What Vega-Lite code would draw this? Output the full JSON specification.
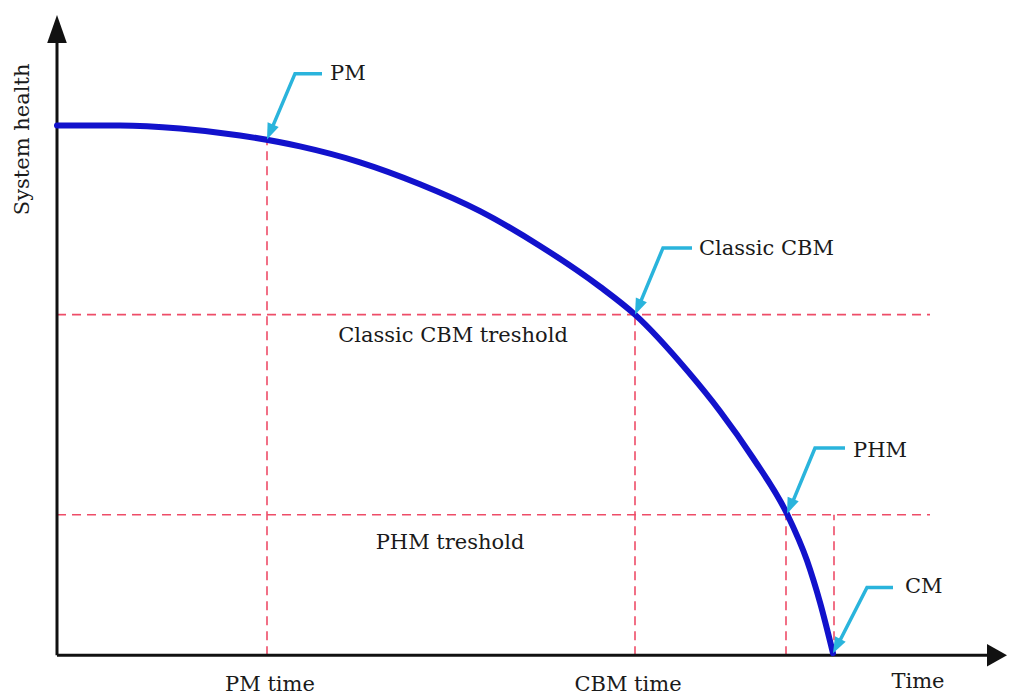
{
  "$schema": "https://vega.github.io/schema/vega-lite/v6.json",
  "width": 1009,
  "height": 695,
  "padding": 0,
  "autosize": {"type": "fit", "contains": "padding"},
  "background": "white",
  "config": {"view": {"stroke": null}, "axis": {"disable": true}},
  "datasets": {
    "curve": [
      {"t": 0, "h": 53.2}, {"t": 6.3, "h": 53.2}, {"t": 12.3, "h": 52.9}, {"t": 18.3, "h": 52.2},
      {"t": 24.3, "h": 51.1}, {"t": 30.3, "h": 49.5}, {"t": 36.3, "h": 47.3}, {"t": 42.3, "h": 44.6},
      {"t": 48.3, "h": 41.1}, {"t": 54.3, "h": 37.0}, {"t": 57.8, "h": 34.2},
      {"t": 63.0, "h": 28.6}, {"t": 66.3, "h": 24.5}, {"t": 69.6, "h": 19.8}, {"t": 73.0, "h": 14.2},
      {"t": 75.0, "h": 9.5}, {"t": 76.3, "h": 5.3}, {"t": 77.6, "h": 0.2}
    ],
    "guides": [
      {"t": 0, "h": 34.2, "t2": 87.3, "h2": 34.2},
      {"t": 0, "h": 14.1, "t2": 87.3, "h2": 14.1},
      {"t": 21.0, "h": 0, "t2": 21.0, "h2": 51.8},
      {"t": 57.8, "h": 0, "t2": 57.8, "h2": 34.2},
      {"t": 72.9, "h": 0, "t2": 72.9, "h2": 14.1},
      {"t": 77.7, "h": 0, "t2": 77.7, "h2": 14.1}
    ],
    "callouts": [
      {"c": "PM", "s": 1, "t": 26.5, "h": 58.4}, {"c": "PM", "s": 2, "t": 23.8, "h": 58.4}, {"c": "PM", "s": 3, "t": 21.4, "h": 52.7},
      {"c": "CBM", "s": 1, "t": 63.5, "h": 40.9}, {"c": "CBM", "s": 2, "t": 60.6, "h": 40.9}, {"c": "CBM", "s": 3, "t": 58.2, "h": 35.1},
      {"c": "PHM", "s": 1, "t": 78.8, "h": 20.8}, {"c": "PHM", "s": 2, "t": 75.8, "h": 20.8}, {"c": "PHM", "s": 3, "t": 73.4, "h": 15.0},
      {"c": "CM", "s": 1, "t": 83.6, "h": 6.8}, {"c": "CM", "s": 2, "t": 81.0, "h": 6.8}, {"c": "CM", "s": 3, "t": 78.1, "h": 1.1}
    ],
    "heads": [
      {"c": "PM", "t": 21.0, "h": 51.8},
      {"c": "CBM", "t": 57.8, "h": 34.2},
      {"c": "PHM", "t": 73.0, "h": 14.2},
      {"c": "CM", "t": 77.6, "h": 0.2}
    ],
    "axes": [
      {"t": 0, "h": 0, "t2": 0, "h2": 61.6},
      {"t": 0, "h": 0, "t2": 93.2, "h2": 0}
    ],
    "axisHeads": [
      {"dir": "up", "t": 0, "h": 64.3},
      {"dir": "right", "t": 95.0, "h": 0}
    ],
    "labels": [
      {"kind": "callout", "text": "PM", "t": 27.3, "h": 58.4},
      {"kind": "callout", "text": "Classic CBM", "t": 64.2, "h": 40.8},
      {"kind": "callout", "text": "PHM", "t": 79.6, "h": 20.5},
      {"kind": "callout", "text": "CM", "t": 84.8, "h": 6.8},
      {"kind": "centre", "text": "Classic CBM treshold", "t": 39.6, "h": 32.1},
      {"kind": "centre", "text": "PHM treshold", "t": 39.3, "h": 11.3},
      {"kind": "centre", "text": "PM time", "t": 21.3, "h": -3.0},
      {"kind": "centre", "text": "CBM time", "t": 57.1, "h": -3.0},
      {"kind": "centre", "text": "Time", "t": 86.1, "h": -2.7},
      {"kind": "ytitle", "text": "System health", "t": -3.4, "h": 51.8}
    ]
  },
  "layer": [
    {
      "data": {"name": "guides"},
      "mark": {"type": "rule", "color": "#ee4d68", "strokeWidth": 1.6, "strokeDash": [9, 6]},
      "encoding": {
        "x": {"field": "t", "type": "quantitative", "scale": {"domain": [-5.7, 95.2], "nice": false, "zero": false}},
        "y": {"field": "h", "type": "quantitative", "scale": {"domain": [-3.7, 65.8], "nice": false, "zero": false}},
        "x2": {"field": "t2"},
        "y2": {"field": "h2"}
      }
    },
    {
      "data": {"name": "axes"},
      "mark": {"type": "rule", "color": "#111111", "strokeWidth": 3},
      "encoding": {
        "x": {"field": "t", "type": "quantitative"},
        "y": {"field": "h", "type": "quantitative"},
        "x2": {"field": "t2"},
        "y2": {"field": "h2"}
      }
    },
    {
      "data": {"name": "axisHeads"},
      "transform": [{"filter": "datum.dir == 'up'"}],
      "mark": {"type": "point", "shape": "M0,0L-0.7,2L0.7,2Z", "size": 784, "filled": true, "color": "#111111", "opacity": 1, "strokeWidth": 0},
      "encoding": {
        "x": {"field": "t", "type": "quantitative"},
        "y": {"field": "h", "type": "quantitative"}
      }
    },
    {
      "data": {"name": "axisHeads"},
      "transform": [{"filter": "datum.dir == 'right'"}],
      "mark": {"type": "point", "shape": "M0,0L-0.9,1.6L0.9,1.6Z", "size": 625, "angle": 90, "filled": true, "color": "#111111", "opacity": 1, "strokeWidth": 0},
      "encoding": {
        "x": {"field": "t", "type": "quantitative"},
        "y": {"field": "h", "type": "quantitative"}
      }
    },
    {
      "data": {"name": "curve"},
      "mark": {"type": "line", "color": "#1212cc", "strokeWidth": 6, "interpolate": "monotone", "strokeCap": "round"},
      "encoding": {
        "x": {"field": "t", "type": "quantitative"},
        "y": {"field": "h", "type": "quantitative"}
      }
    },
    {
      "data": {"name": "callouts"},
      "mark": {"type": "line", "color": "#2ab4dc", "strokeWidth": 3.5},
      "encoding": {
        "x": {"field": "t", "type": "quantitative"},
        "y": {"field": "h", "type": "quantitative"},
        "detail": {"field": "c"},
        "order": {"field": "s", "type": "quantitative"}
      }
    },
    {
      "data": {"name": "heads"},
      "transform": [{"filter": "datum.c == 'PM'"}],
      "mark": {"type": "point", "shape": "M0,0L-0.6,1.6L0.6,1.6Z", "size": 400, "angle": 202.6, "filled": true, "color": "#2ab4dc", "opacity": 1, "strokeWidth": 0},
      "encoding": {"x": {"field": "t", "type": "quantitative"}, "y": {"field": "h", "type": "quantitative"}}
    },
    {
      "data": {"name": "heads"},
      "transform": [{"filter": "datum.c == 'CBM'"}],
      "mark": {"type": "point", "shape": "M0,0L-0.6,1.6L0.6,1.6Z", "size": 400, "angle": 203.4, "filled": true, "color": "#2ab4dc", "opacity": 1, "strokeWidth": 0},
      "encoding": {"x": {"field": "t", "type": "quantitative"}, "y": {"field": "h", "type": "quantitative"}}
    },
    {
      "data": {"name": "heads"},
      "transform": [{"filter": "datum.c == 'PHM'"}],
      "mark": {"type": "point", "shape": "M0,0L-0.6,1.6L0.6,1.6Z", "size": 400, "angle": 202.7, "filled": true, "color": "#2ab4dc", "opacity": 1, "strokeWidth": 0},
      "encoding": {"x": {"field": "t", "type": "quantitative"}, "y": {"field": "h", "type": "quantitative"}}
    },
    {
      "data": {"name": "heads"},
      "transform": [{"filter": "datum.c == 'CM'"}],
      "mark": {"type": "point", "shape": "M0,0L-0.6,1.6L0.6,1.6Z", "size": 400, "angle": 207.3, "filled": true, "color": "#2ab4dc", "opacity": 1, "strokeWidth": 0},
      "encoding": {"x": {"field": "t", "type": "quantitative"}, "y": {"field": "h", "type": "quantitative"}}
    },
    {
      "data": {"name": "labels"},
      "transform": [{"filter": "datum.kind == 'callout'"}],
      "mark": {"type": "text", "font": "DejaVu Serif", "fontSize": 21, "color": "#1a1a1a", "align": "left", "baseline": "middle"},
      "encoding": {
        "x": {"field": "t", "type": "quantitative"},
        "y": {"field": "h", "type": "quantitative"},
        "text": {"field": "text"}
      }
    },
    {
      "data": {"name": "labels"},
      "transform": [{"filter": "datum.kind == 'centre'"}],
      "mark": {"type": "text", "font": "DejaVu Serif", "fontSize": 21, "color": "#1a1a1a", "align": "center", "baseline": "middle"},
      "encoding": {
        "x": {"field": "t", "type": "quantitative"},
        "y": {"field": "h", "type": "quantitative"},
        "text": {"field": "text"}
      }
    },
    {
      "data": {"name": "labels"},
      "transform": [{"filter": "datum.kind == 'ytitle'"}],
      "mark": {"type": "text", "font": "DejaVu Serif", "fontSize": 21, "color": "#1a1a1a", "align": "center", "baseline": "middle", "angle": 270},
      "encoding": {
        "x": {"field": "t", "type": "quantitative"},
        "y": {"field": "h", "type": "quantitative"},
        "text": {"field": "text"}
      }
    }
  ]
}
